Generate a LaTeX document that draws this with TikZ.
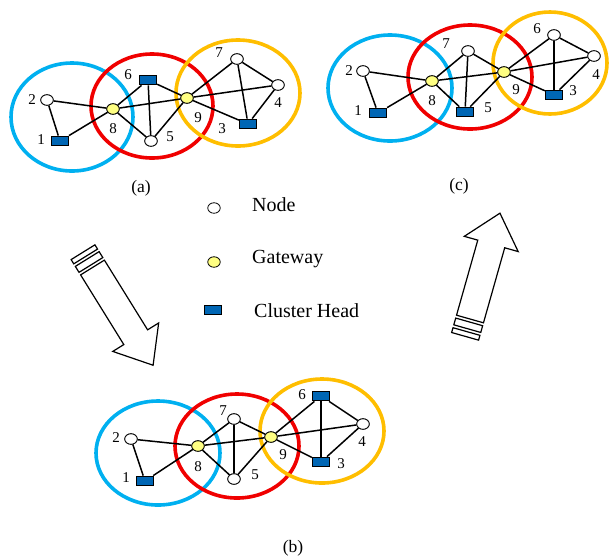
\documentclass[tikz,border=0pt]{standalone}
\usepackage{fontspec}
\setmainfont{Liberation Serif}
\usetikzlibrary{shapes.geometric}
\definecolor{cblue}{RGB}{0,176,240}
\definecolor{cred}{RGB}{240,0,0}
\definecolor{corange}{RGB}{255,190,0}
\definecolor{chfill}{RGB}{0,102,180}
\definecolor{gwfill}{RGB}{255,255,130}
\tikzset{
  nd/.style={ellipse, draw, fill=white, minimum width=12.5pt, minimum height=10.5pt, inner sep=0pt, line width=0.8pt},
  gw/.style={nd, fill=gwfill},
  ch/.style={rectangle, draw, fill=chfill, minimum width=17pt, minimum height=9.5pt, inner sep=0pt, line width=1.3pt},
  lbl/.style={inner sep=0pt, font=\fontsize{15}{15}\selectfont},
  leg/.style={inner sep=0pt, anchor=west, font=\fontsize{20}{20}\selectfont},
  captxt/.style={inner sep=0pt, font=\fontsize{17.5}{17.5}\selectfont},
  edge/.style={line width=1.5pt},
  ringb/.style={draw=cblue, line width=3.6pt},
  ringr/.style={draw=cred, line width=3.6pt},
  ringo/.style={draw=corange, line width=3.6pt},
  blockarrow/.style={draw, fill=white, line width=1.2pt, line join=miter}
}
\begin{document}
\begin{tikzpicture}[x=1pt,y=-1pt]
\useasboundingbox (0,0) rectangle (609,558);

% ---------- Panel (a) ----------
\draw[ringb] (72,117) ellipse [x radius=61pt, y radius=54pt];
\draw[ringr] (152,106) ellipse [x radius=61pt, y radius=52pt];
\draw[ringo] (238,93) ellipse [x radius=62pt, y radius=53pt];
\node[nd] (a2) at (47,100) {};
\node[ch] (a1) at (60,141) {};
\node[gw] (a8) at (113,109) {};
\node[ch] (a6) at (148,80) {};
\node[nd] (a5) at (151,141) {};
\node[gw] (a9) at (187,98) {};
\node[nd] (a7) at (237,59) {};
\node[nd] (a4) at (278,85) {};
\node[ch] (a3) at (248,124) {};
\begin{scope}[edge]
\draw (a1) -- (a2); \draw (a2) -- (a8); \draw (a1) -- (a8); \draw (a8) -- (a9);
\draw (a8) -- (a6); \draw (a8) -- (a5); \draw (a6) -- (a5); \draw (a6) -- (a9);
\draw (a5) -- (a9); \draw (a9) -- (a7); \draw (a9) -- (a4); \draw (a9) -- (a3);
\draw (a7) -- (a3); \draw (a7) -- (a4); \draw (a4) -- (a3);
\end{scope}
\node[nd] at (a2) {}; \node[ch] at (a1) {}; \node[gw] at (a8) {}; \node[ch] at (a6) {};
\node[nd] at (a5) {}; \node[gw] at (a9) {}; \node[nd] at (a7) {}; \node[nd] at (a4) {}; \node[ch] at (a3) {};
\node[lbl] (la2) at (32,100) {2};
\node[lbl] (la1) at (41,140) {1};
\node[lbl] (la8) at (113,129) {8};
\node[lbl] (la6) at (128,75) {6};
\node[lbl] (la5) at (170,137) {5};
\node[lbl] (la9) at (198,118) {9};
\node[lbl] (la7) at (219,53) {7};
\node[lbl] (la4) at (278,103) {4};
\node[lbl] (la3) at (222,129) {3};
\node[captxt] (capa) at (141,188) {(a)};

% ---------- Panel (c) ----------
\draw[ringb] (390,88) ellipse [x radius=62pt, y radius=53pt];
\draw[ringr] (470,77) ellipse [x radius=62pt, y radius=52pt];
\draw[ringo] (550,63) ellipse [x radius=57pt, y radius=51pt];
\node[nd] (c2) at (363,71) {};
\node[ch] (c1) at (378,113) {};
\node[gw] (c8) at (432,81) {};
\node[nd] (c7) at (468,51) {};
\node[ch] (c5) at (465,112) {};
\node[gw] (c9) at (504,72) {};
\node[nd] (c6) at (554,35) {};
\node[nd] (c4) at (594,56) {};
\node[ch] (c3) at (554,95) {};
\begin{scope}[edge]
\draw (c1) -- (c2); \draw (c2) -- (c8); \draw (c1) -- (c8); \draw (c8) -- (c9);
\draw (c8) -- (c7); \draw (c8) -- (c5); \draw (c7) -- (c5); \draw (c7) -- (c9);
\draw (c5) -- (c9); \draw (c9) -- (c6); \draw (c9) -- (c4); \draw (c9) -- (c3);
\draw (c6) -- (c3); \draw (c6) -- (c4); \draw (c4) -- (c3);
\end{scope}
\node[nd] at (c2) {}; \node[ch] at (c1) {}; \node[gw] at (c8) {}; \node[nd] at (c7) {};
\node[ch] at (c5) {}; \node[gw] at (c9) {}; \node[nd] at (c6) {}; \node[nd] at (c4) {}; \node[ch] at (c3) {};
\node[lbl] (lc2) at (349,71) {2};
\node[lbl] (lc1) at (358,111) {1};
\node[lbl] (lc8) at (432,101) {8};
\node[lbl] (lc7) at (446,44) {7};
\node[lbl] (lc5) at (488,108) {5};
\node[lbl] (lc9) at (516,90) {9};
\node[lbl] (lc6) at (537,29) {6};
\node[lbl] (lc4) at (596,75) {4};
\node[lbl] (lc3) at (573,91) {3};
\node[captxt] (capc) at (459,186) {(c)};

% ---------- Panel (b) ----------
\draw[ringb] (158,453) ellipse [x radius=62pt, y radius=52pt];
\draw[ringr] (237,446) ellipse [x radius=62pt, y radius=52pt];
\draw[ringo] (322,431) ellipse [x radius=62pt, y radius=52pt];
\node[nd] (b2) at (131,439) {};
\node[ch] (b1) at (145,481) {};
\node[gw] (b8) at (198,446) {};
\node[nd] (b7) at (234,419) {};
\node[nd] (b5) at (234,479) {};
\node[gw] (b9) at (271,437) {};
\node[ch] (b6) at (321,396) {};
\node[nd] (b4) at (363,424) {};
\node[ch] (b3) at (321,462) {};
\begin{scope}[edge]
\draw (b1) -- (b2); \draw (b2) -- (b8); \draw (b1) -- (b8); \draw (b8) -- (b9);
\draw (b8) -- (b7); \draw (b8) -- (b5); \draw (b7) -- (b5); \draw (b7) -- (b9);
\draw (b5) -- (b9); \draw (b9) -- (b6); \draw (b9) -- (b4); \draw (b9) -- (b3);
\draw (b6) -- (b3); \draw (b6) -- (b4); \draw (b4) -- (b3);
\end{scope}
\node[nd] at (b2) {}; \node[ch] at (b1) {}; \node[gw] at (b8) {}; \node[nd] at (b7) {};
\node[nd] at (b5) {}; \node[gw] at (b9) {}; \node[ch] at (b6) {}; \node[nd] at (b4) {}; \node[ch] at (b3) {};
\node[lbl] (lb2) at (116,438) {2};
\node[lbl] (lb1) at (126,478) {1};
\node[lbl] (lb8) at (198,467) {8};
\node[lbl] (lb7) at (223,411) {7};
\node[lbl] (lb5) at (255,475) {5};
\node[lbl] (lb9) at (283,455) {9};
\node[lbl] (lb6) at (302,395) {6};
\node[lbl] (lb4) at (362,442) {4};
\node[lbl] (lb3) at (341,464) {3};
\node[captxt] (capb) at (293,548) {(b)};

% ---------- Legend ----------
\node[nd] (lgn) at (214,208) {};
\node[leg] (lgnt) at (252,205) {Node};
\node[gw] (lgg) at (214,262) {};
\node[leg] (lggt) at (252,259) {Gateway};
\node[ch] (lgc) at (213,310) {};
\node[leg] (lgct) at (254,311) {Cluster Head};

% ---------- Block arrows ----------
\begin{scope}[shift={(92.5,267.5)}, rotate=-58.2]
\draw[blockarrow] (0,-14) -- (82,-14) -- (82,-27) -- (115,0) -- (82,27) -- (82,14) -- (0,14) -- cycle;
\draw[blockarrow] (-3,-14) rectangle (-10,14);
\draw[blockarrow] (-13,-14) rectangle (-18,14);
\end{scope}
\begin{scope}[shift={(470,319)}, rotate=74.2]
\draw[blockarrow] (0,-14) -- (78,-14) -- (78,-28) -- (110,0) -- (78,28) -- (78,14) -- (0,14) -- cycle;
\draw[blockarrow] (-3,-14) rectangle (-10,14);
\draw[blockarrow] (-13,-14) rectangle (-18,14);
\end{scope}
\end{tikzpicture}
\end{document}
